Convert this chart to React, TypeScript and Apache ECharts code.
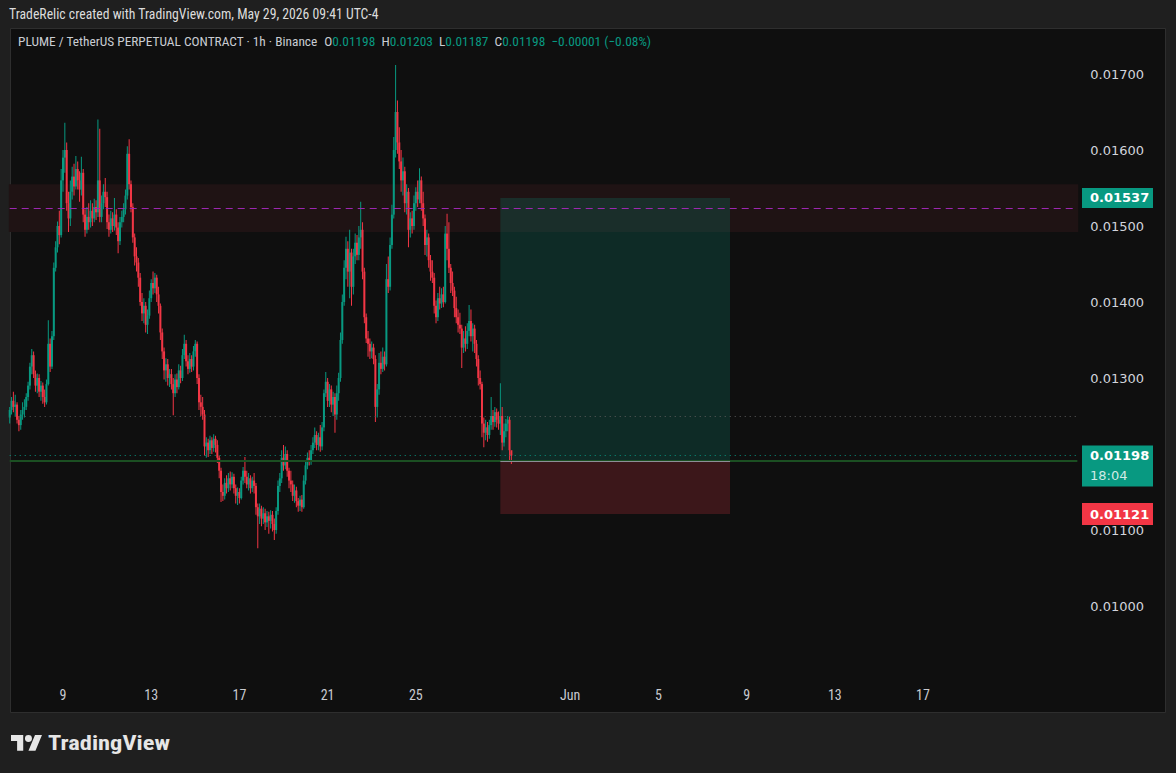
import React, { useEffect, useRef } from 'react';
import * as echarts from 'echarts';

const W = 1176;
const H = 773;

// ---------------- data ----------------
// first bar opens May 6 14:00 (chart display time); one bar every 2 hours
const barStartUTC = Date.UTC(2026, 4, 6, 14, 0);
const barHours = 2;
const slotCount = 582; // time slots shown on the axis (through ~Jun 24)

// [open, close, low, high] in units of 0.00001 USDT
const ohlc: number[][] = [
  [1248, 1258, 1240, 1262], [1258, 1270, 1252, 1275], [1270, 1262, 1255, 1282], [1262, 1265, 1250, 1278],
  [1265, 1245, 1240, 1268], [1245, 1238, 1230, 1250], [1238, 1252, 1232, 1258], [1252, 1258, 1245, 1268],
  [1258, 1262, 1248, 1272], [1262, 1275, 1258, 1280], [1275, 1290, 1270, 1295], [1290, 1315, 1285, 1320],
  [1315, 1330, 1305, 1338], [1330, 1305, 1300, 1335], [1305, 1290, 1282, 1310], [1290, 1300, 1280, 1306],
  [1300, 1282, 1275, 1305], [1282, 1290, 1270, 1296], [1290, 1275, 1266, 1294], [1275, 1268, 1262, 1285],
  [1268, 1292, 1265, 1298], [1292, 1345, 1290, 1376], [1345, 1315, 1308, 1352], [1315, 1355, 1312, 1362],
  [1355, 1445, 1350, 1452], [1445, 1472, 1440, 1480], [1472, 1500, 1465, 1506], [1500, 1488, 1476, 1520],
  [1488, 1560, 1485, 1575], [1560, 1590, 1545, 1600], [1590, 1600, 1570, 1636], [1600, 1530, 1520, 1610],
  [1530, 1510, 1492, 1545], [1510, 1545, 1500, 1560], [1545, 1565, 1535, 1578], [1565, 1552, 1540, 1582],
  [1552, 1575, 1548, 1592], [1575, 1560, 1548, 1585], [1560, 1548, 1532, 1572], [1548, 1570, 1540, 1591],
  [1570, 1515, 1505, 1575], [1515, 1495, 1486, 1522], [1495, 1512, 1490, 1525], [1512, 1505, 1495, 1530],
  [1505, 1520, 1498, 1534], [1520, 1510, 1500, 1530], [1510, 1525, 1505, 1536], [1525, 1518, 1508, 1534],
  [1518, 1560, 1512, 1640], [1560, 1512, 1505, 1628], [1512, 1530, 1505, 1540], [1530, 1545, 1522, 1555],
  [1545, 1538, 1525, 1563], [1538, 1505, 1496, 1545], [1505, 1495, 1486, 1515], [1495, 1510, 1490, 1520],
  [1510, 1500, 1492, 1518], [1500, 1515, 1494, 1537], [1515, 1498, 1488, 1522], [1498, 1480, 1464, 1505],
  [1480, 1505, 1475, 1512], [1505, 1512, 1498, 1520], [1512, 1522, 1505, 1530], [1522, 1540, 1515, 1548],
  [1540, 1595, 1535, 1605], [1595, 1555, 1548, 1614], [1555, 1525, 1518, 1560], [1525, 1485, 1478, 1530],
  [1485, 1460, 1448, 1490], [1460, 1452, 1440, 1472], [1452, 1432, 1420, 1458], [1432, 1400, 1395, 1438],
  [1400, 1385, 1375, 1412], [1385, 1395, 1372, 1405], [1395, 1370, 1360, 1400], [1370, 1382, 1358, 1390],
  [1382, 1405, 1378, 1415], [1405, 1425, 1400, 1430], [1425, 1418, 1410, 1440], [1418, 1432, 1412, 1438],
  [1432, 1410, 1400, 1436], [1410, 1395, 1385, 1420], [1395, 1360, 1350, 1398], [1360, 1335, 1325, 1365],
  [1335, 1310, 1298, 1340], [1310, 1318, 1295, 1326], [1318, 1300, 1290, 1325], [1300, 1305, 1288, 1312],
  [1305, 1292, 1285, 1312], [1292, 1280, 1251, 1300], [1280, 1298, 1275, 1305], [1298, 1288, 1280, 1306],
  [1288, 1310, 1285, 1318], [1310, 1300, 1293, 1316], [1300, 1330, 1296, 1338], [1330, 1345, 1325, 1357],
  [1345, 1322, 1315, 1350], [1322, 1312, 1305, 1330], [1312, 1325, 1307, 1333], [1325, 1315, 1308, 1330],
  [1315, 1335, 1310, 1342], [1335, 1345, 1328, 1350], [1345, 1300, 1292, 1348], [1300, 1268, 1258, 1305],
  [1268, 1262, 1250, 1278], [1262, 1252, 1245, 1275], [1252, 1210, 1198, 1258], [1210, 1215, 1195, 1222],
  [1215, 1205, 1196, 1220], [1205, 1218, 1200, 1224], [1218, 1208, 1200, 1222], [1208, 1220, 1203, 1226],
  [1220, 1212, 1202, 1224], [1212, 1195, 1188, 1218], [1195, 1178, 1168, 1198], [1178, 1150, 1137, 1182],
  [1150, 1145, 1138, 1160], [1145, 1162, 1140, 1168], [1162, 1155, 1148, 1172], [1155, 1168, 1150, 1175],
  [1168, 1160, 1152, 1177], [1160, 1170, 1155, 1176], [1170, 1155, 1148, 1174], [1155, 1145, 1135, 1160],
  [1145, 1150, 1133, 1156], [1150, 1142, 1135, 1155], [1142, 1165, 1140, 1170], [1165, 1178, 1160, 1183],
  [1178, 1170, 1162, 1196], [1170, 1160, 1155, 1178], [1160, 1168, 1152, 1175], [1168, 1155, 1148, 1172],
  [1155, 1165, 1150, 1170], [1165, 1158, 1148, 1175], [1158, 1130, 1120, 1162], [1130, 1118, 1076, 1135],
  [1118, 1128, 1108, 1135], [1128, 1115, 1105, 1132], [1115, 1122, 1108, 1130], [1122, 1110, 1100, 1128],
  [1110, 1118, 1104, 1125], [1118, 1112, 1095, 1124], [1112, 1120, 1102, 1126], [1120, 1108, 1098, 1125],
  [1108, 1100, 1087, 1115], [1100, 1125, 1095, 1130], [1125, 1158, 1120, 1165], [1158, 1168, 1150, 1175],
  [1168, 1195, 1162, 1205], [1195, 1185, 1178, 1212], [1185, 1200, 1180, 1210], [1200, 1178, 1170, 1205],
  [1178, 1165, 1155, 1182], [1165, 1160, 1150, 1178], [1160, 1145, 1138, 1165], [1145, 1152, 1136, 1160],
  [1152, 1138, 1130, 1157], [1138, 1132, 1124, 1142], [1132, 1140, 1125, 1145], [1140, 1130, 1124, 1146],
  [1130, 1165, 1128, 1172], [1165, 1185, 1160, 1190], [1185, 1195, 1180, 1202], [1195, 1190, 1185, 1205],
  [1190, 1205, 1186, 1212], [1205, 1215, 1200, 1222], [1215, 1225, 1208, 1235], [1225, 1212, 1205, 1230],
  [1212, 1222, 1205, 1228], [1222, 1210, 1203, 1238], [1210, 1235, 1205, 1242], [1235, 1280, 1230, 1285],
  [1280, 1295, 1275, 1308], [1295, 1270, 1262, 1300], [1270, 1285, 1262, 1292], [1285, 1265, 1255, 1290],
  [1265, 1275, 1250, 1282], [1275, 1252, 1228, 1280], [1252, 1280, 1245, 1290], [1280, 1300, 1270, 1307],
  [1300, 1350, 1295, 1360], [1350, 1400, 1345, 1410], [1400, 1445, 1395, 1455], [1445, 1470, 1430, 1486],
  [1470, 1440, 1420, 1480], [1440, 1465, 1405, 1495], [1465, 1420, 1395, 1470], [1420, 1460, 1410, 1470],
  [1460, 1478, 1450, 1490], [1478, 1462, 1455, 1488], [1462, 1485, 1455, 1500], [1485, 1495, 1470, 1532],
  [1495, 1440, 1430, 1505], [1440, 1380, 1372, 1445], [1380, 1352, 1346, 1385], [1352, 1345, 1328, 1362],
  [1345, 1335, 1325, 1352], [1335, 1340, 1326, 1348], [1340, 1325, 1318, 1345], [1325, 1262, 1242, 1330],
  [1262, 1285, 1248, 1292], [1285, 1320, 1278, 1333], [1320, 1312, 1305, 1335], [1312, 1328, 1308, 1340],
  [1328, 1318, 1310, 1335], [1318, 1430, 1315, 1450], [1430, 1420, 1412, 1460], [1420, 1475, 1415, 1485],
  [1475, 1515, 1470, 1528], [1515, 1600, 1510, 1617], [1600, 1650, 1590, 1712], [1650, 1610, 1595, 1665],
  [1610, 1585, 1575, 1630], [1585, 1560, 1545, 1600], [1560, 1572, 1540, 1590], [1572, 1530, 1518, 1578],
  [1530, 1545, 1515, 1555], [1545, 1495, 1472, 1550], [1495, 1510, 1485, 1518], [1510, 1500, 1490, 1520],
  [1500, 1530, 1495, 1540], [1530, 1545, 1520, 1551], [1545, 1535, 1525, 1560], [1535, 1560, 1530, 1576],
  [1560, 1530, 1520, 1565], [1530, 1510, 1500, 1545], [1510, 1475, 1462, 1515], [1475, 1485, 1460, 1495],
  [1485, 1455, 1445, 1490], [1455, 1440, 1428, 1462], [1440, 1432, 1425, 1455], [1432, 1395, 1385, 1438],
  [1395, 1380, 1372, 1402], [1380, 1405, 1375, 1412], [1405, 1398, 1390, 1420], [1398, 1410, 1392, 1418],
  [1410, 1400, 1393, 1420], [1400, 1490, 1398, 1500], [1490, 1470, 1455, 1516], [1470, 1445, 1438, 1505],
  [1445, 1425, 1412, 1450], [1425, 1415, 1408, 1440], [1415, 1392, 1380, 1420], [1392, 1380, 1372, 1407],
  [1380, 1370, 1360, 1390], [1370, 1365, 1358, 1386], [1365, 1340, 1313, 1370], [1340, 1352, 1333, 1362],
  [1352, 1345, 1335, 1368], [1345, 1362, 1338, 1372], [1362, 1375, 1355, 1396], [1375, 1355, 1348, 1390],
  [1355, 1365, 1335, 1372], [1365, 1345, 1333, 1370], [1345, 1325, 1315, 1350], [1325, 1300, 1290, 1330],
  [1300, 1292, 1285, 1310], [1292, 1240, 1222, 1295], [1240, 1228, 1209, 1248], [1228, 1235, 1218, 1245],
  [1235, 1225, 1216, 1242], [1225, 1238, 1220, 1245], [1238, 1250, 1232, 1275], [1250, 1242, 1232, 1258],
  [1242, 1255, 1236, 1262], [1255, 1245, 1235, 1260], [1245, 1240, 1232, 1256], [1240, 1250, 1225, 1293],
  [1250, 1215, 1205, 1262], [1215, 1230, 1210, 1240], [1230, 1240, 1222, 1246], [1240, 1245, 1230, 1250],
  [1245, 1205, 1192, 1249], [1205, 1198, 1187, 1203],
];

// day labels on the time scale
const dayLabelDates = ['05-09', '05-13', '05-17', '05-21', '05-25', '06-01', '06-05', '06-09', '06-13', '06-17'];
const dayLabelTexts = ['9', '13', '17', '21', '25', 'Jun', '5', '9', '13', '17'];

// price scale
const priceMin = 0.009;
const priceMax = 0.0176;
const priceStep = 0.001;
const hiddenPriceLabels = ['0.01200']; // covered by the last-price marker

// drawings
const resistanceZone = [0.01555, 0.01492];
const dashedLevel = 0.01523;
const dottedLevel = 0.0125;
const lastPrice = 0.01198;
const greenLevel = 0.01191;
const positionTarget = 0.01537;
const positionEntry = 0.01191;
const positionStop = 0.01121;
const positionStart = '05-28 20:00';
const positionEnd = '06-08 06:00';
const countdown = '18:04';

// header
const headerCredit = 'TradeRelic created with TradingView.com, May 29, 2026 09:41 UTC-4';
const symbolTitle = 'PLUME / TetherUS PERPETUAL CONTRACT · 1h · Binance';
const lastBarLabels = ['O', 'H', 'L', 'C'];
const lastBarValues = ['0.01198', '0.01203', '0.01187', '0.01198'];
const lastBarChange = '−0.00001 (−0.08%)';

// ---------------- helpers ----------------
const UP = '#089981';
const DOWN = '#f23645';
const NARROW = '"Liberation Sans Narrow", "Roboto Condensed", "DejaVu Sans Condensed", Roboto, sans-serif';
const SCALE_FONT = '"DejaVu Sans", Verdana, sans-serif';

const pad = (n: number) => String(n).padStart(2, '0');
const categories: string[] = Array.from({ length: slotCount }, (_, i) => {
  const d = new Date(barStartUTC + i * barHours * 3600000);
  return `${pad(d.getUTCMonth() + 1)}-${pad(d.getUTCDate())} ${pad(d.getUTCHours())}:00`;
});
const labelMap = new Map<string, string>(dayLabelDates.map((d, i) => [d + ' 00:00', dayLabelTexts[i]]));
const firstCat = categories[0];
const lastCat = categories[categories.length - 1];

function measure(text: string, font: string): number {
  const ctx = document.createElement('canvas').getContext('2d');
  if (!ctx) return 1;
  ctx.font = font;
  return ctx.measureText(text).width || 1;
}

const hLine = (value: number, lineStyle: any) => [
  { xAxis: firstCat, yAxis: value, lineStyle },
  { xAxis: lastCat, yAxis: value },
];

const LOGO_D = 'M14 22H7V11H0V4h14v18zM28 22h-8l7.5-18h8L28 22zM24 8a4 4 0 1 1-8 0a4 4 0 1 1 8 0z';
let logoRegistered = false;

export default function App() {
  const ref = useRef<HTMLDivElement>(null);

  useEffect(() => {
    if (!ref.current) return;
    if (!logoRegistered) {
      echarts.graphic.registerShape('tvlogo', echarts.graphic.extendPath(LOGO_D, {}) as any);
      logoRegistered = true;
    }
    const chart = echarts.init(ref.current, undefined, { renderer: 'svg', width: W, height: H });

    const slotW = 1.8376;
    const gridLeft = 8.79;
    const gridWidth = slotCount * slotW;
    const gridTop = 28.4;
    const gridBottomY = 682;

    const candleData = ohlc.map(([o, c, l, h], i) => [i, o / 1e5, c / 1e5, l / 1e5, h / 1e5]);

    chart.setOption({
      animation: false,
      backgroundColor: '#1f1f1f',
      textStyle: { fontFamily: SCALE_FONT },
      grid: { left: gridLeft, width: gridWidth, top: gridTop, height: gridBottomY - gridTop, containLabel: false },
      xAxis: {
        type: 'category',
        data: categories,
        boundaryGap: true,
        axisLine: { show: false },
        axisTick: { show: false },
        splitLine: { show: false },
        axisLabel: {
          interval: (_i: number, v: string) => labelMap.has(v),
          formatter: (v: string) => labelMap.get(v) ?? '',
          color: '#c8cacf',
          fontSize: 14,
          fontFamily: NARROW,
          margin: 6,
        },
      },
      yAxis: {
        type: 'value',
        position: 'right',
        min: priceMin,
        max: priceMax,
        interval: priceStep,
        axisLine: { show: false },
        axisTick: { show: false },
        splitLine: { show: false },
        axisLabel: {
          formatter: (v: number) => {
            const s = v.toFixed(5);
            return hiddenPriceLabels.includes(s) ? '' : s;
          },
          color: '#d1d4dc',
          fontSize: 13,
          fontFamily: SCALE_FONT,
          margin: 12,
          showMinLabel: false,
          showMaxLabel: false,
        },
      },
      series: [
        {
          type: 'line',
          data: [],
          silent: true,
          markArea: {
            silent: true,
            data: [
              [{ yAxis: resistanceZone[0], itemStyle: { color: '#1f1314' } }, { yAxis: resistanceZone[1] }],
              [
                { xAxis: positionStart, yAxis: positionTarget, itemStyle: { color: 'rgba(8,153,129,0.2)' } },
                { xAxis: positionEnd, yAxis: positionEntry },
              ],
              [
                { xAxis: positionStart, yAxis: positionEntry, itemStyle: { color: 'rgba(242,54,69,0.2)' } },
                { xAxis: positionEnd, yAxis: positionStop },
              ],
            ],
          },
          markLine: {
            silent: true,
            symbol: 'none',
            label: { show: false },
            data: [
              hLine(dottedLevel, { color: '#5d5d5d', width: 1, type: [1, 4] }),
              hLine(greenLevel, { color: '#1b4f22', width: 2, type: 'solid' }),
              hLine(lastPrice, { color: UP, width: 1, type: [1, 4] }),
              hLine(dashedLevel, { color: '#9c27b0', width: 1, type: [7, 5] }),
              [
                { xAxis: positionStart, yAxis: positionEntry, lineStyle: { color: '#8c8f96', width: 1, type: 'solid' } },
                { xAxis: positionEnd, yAxis: positionEntry },
              ],
            ],
          },
        },
        {
          type: 'custom',
          data: candleData,
          z: 3,
          encode: { x: 0, y: [1, 2, 3, 4] },
          renderItem: (_params: any, api: any) => {
            const idx = api.value(0);
            const o = api.value(1);
            const c = api.value(2);
            const l = api.value(3);
            const h = api.value(4);
            const po = api.coord([idx, o]);
            const pc = api.coord([idx, c]);
            const pl = api.coord([idx, l]);
            const ph = api.coord([idx, h]);
            const x = po[0];
            const color = c >= o ? UP : DOWN;
            const bodyW = 2;
            const top = Math.min(po[1], pc[1]);
            const bh = Math.max(Math.abs(pc[1] - po[1]), 1);
            return {
              type: 'group',
              children: [
                { type: 'rect', shape: { x: x - 0.5, y: ph[1], width: 1, height: pl[1] - ph[1] }, style: { fill: color } },
                { type: 'rect', shape: { x: x - bodyW / 2, y: top, width: bodyW, height: bh }, style: { fill: color } },
              ],
            };
          },
        },
      ],
    });

    const yPx = (p: number) => chart.convertToPixel({ yAxisIndex: 0 }, p) as number;

    const creditFont = `14px ${NARROW}`;
    const creditScale = 370 / measure(headerCredit, creditFont);
    const line2Plain =
      symbolTitle + '  ' + lastBarLabels.map((l, i) => l + lastBarValues[i]).join('  ') + '  ' + lastBarChange;
    const line2Font = `13.5px ${NARROW}`;
    const line2Scale = 633 / measure(line2Plain, line2Font);
    const rich2 =
      `{w|${symbolTitle}  }` +
      lastBarLabels.map((l, i) => `{w|${l}}{g|${lastBarValues[i]}  }`).join('') +
      `{g|${lastBarChange}}`;
    const brandFont = `bold 20px ${NARROW}`;
    const brandScale = 122 / measure('TradingView', brandFont);

    const boxX = 1082;
    const boxW = 71;
    const yT = yPx(positionTarget);
    const yL = yPx(lastPrice);
    const yS = yPx(positionStop);
    const boxFont = `bold 13px ${SCALE_FONT}`;

    chart.setOption({
      graphic: [
        {
          type: 'rect',
          z: -10,
          silent: true,
          shape: { x: 10.5, y: 28.5, width: 1155, height: 684 },
          style: { fill: '#0f0f0f', stroke: '#2e2e2e', lineWidth: 1 },
        },
        {
          type: 'text',
          x: 9,
          y: 14,
          scaleX: creditScale,
          style: { text: headerCredit, font: creditFont, fill: '#dcdcdc', textVerticalAlign: 'middle' },
        },
        {
          type: 'text',
          x: 18,
          y: 41,
          scaleX: line2Scale,
          style: {
            text: rich2,
            font: line2Font,
            textVerticalAlign: 'middle',
            rich: {
              w: { fill: '#c9ccd2', font: line2Font },
              g: { fill: UP, font: line2Font },
            },
          },
        },
        {
          type: 'rect',
          z: 50,
          shape: { x: boxX, y: yT - 10, width: boxW, height: 20 },
          style: { fill: UP },
        },
        {
          type: 'text',
          z: 51,
          x: 1090,
          y: yT,
          style: { text: positionTarget.toFixed(5), font: boxFont, fill: '#ffffff', textVerticalAlign: 'middle' },
        },
        {
          type: 'rect',
          z: 50,
          shape: { x: boxX, y: yL - 10, width: boxW, height: 41 },
          style: { fill: UP },
        },
        {
          type: 'text',
          z: 51,
          x: 1090,
          y: yL,
          style: { text: lastPrice.toFixed(5), font: boxFont, fill: '#ffffff', textVerticalAlign: 'middle' },
        },
        {
          type: 'text',
          z: 51,
          x: 1090,
          y: yL + 20,
          style: { text: countdown, font: `13px ${SCALE_FONT}`, fill: 'rgba(255,255,255,0.82)', textVerticalAlign: 'middle' },
        },
        {
          type: 'rect',
          z: 50,
          shape: { x: boxX, y: yS - 11, width: boxW, height: 22 },
          style: { fill: DOWN },
        },
        {
          type: 'text',
          z: 51,
          x: 1090,
          y: yS,
          style: { text: positionStop.toFixed(5), font: boxFont, fill: '#ffffff', textVerticalAlign: 'middle' },
        },
        {
          type: 'tvlogo',
          x: 11,
          y: 731.5,
          scaleX: 0.873,
          scaleY: 0.873,
          style: { fill: '#e6e6e6' },
        },
        {
          type: 'text',
          x: 48,
          y: 743,
          scaleX: brandScale,
          style: { text: 'TradingView', font: brandFont, fill: '#e6e6e6', textVerticalAlign: 'middle' },
        },
      ],
    });

    return () => chart.dispose();
  }, []);

  return <div ref={ref} style={{ position: 'fixed', left: 0, top: 0, width: W, height: H }} />;
}
